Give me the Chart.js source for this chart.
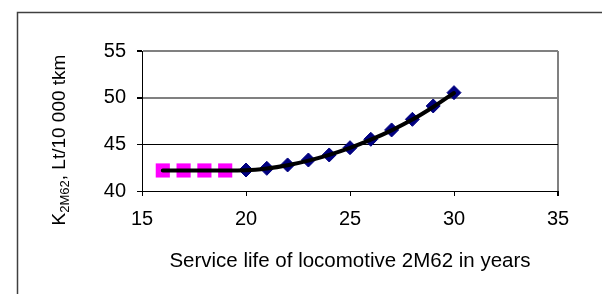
<!DOCTYPE html>
<html><head><meta charset="utf-8">
<script src="https://cdn.jsdelivr.net/npm/chart.js@4.4.1/dist/chart.umd.min.js"></script>
<style>html,body{margin:0;padding:0;background:#fff;}canvas{display:block;}</style>
</head><body>
<canvas id="c" width="602" height="294"></canvas>
<script>
// ---- data ----
const pinkYears  = [16, 17, 18, 19];
const pinkValues = [42.2, 42.2, 42.2, 42.2];
const blueYears  = [20, 21, 22, 23, 24, 25, 26, 27, 28, 29, 30];
const blueValues = [42.25, 42.43, 42.79, 43.32, 43.86, 44.64, 45.54, 46.54, 47.68, 49.11, 50.54];
const trendYears  = [16, 17, 18, 19, 20, 21, 22, 23, 24, 25, 26, 27, 28, 29, 30];
const trendValues = [42.2, 42.2, 42.2, 42.2, 42.22, 42.4, 42.75, 43.25, 43.87, 44.62, 45.5, 46.5, 47.65, 49.0, 50.5];
const xTickValues = [15, 20, 25, 30, 35];
const yTickValues = [40, 45, 50, 55];
const xTitle = 'Service life of locomotive 2M62 in years';
const yTitleMain = 'K';
const yTitleSub = '2M62';
const yTitleRest = ', Lt/10 000 tkm';

const FONT = "'Liberation Sans', Arial, sans-serif";

const framePlugin = {
  id: 'frame',
  beforeDraw(chart) {
    const ctx = chart.ctx;
    ctx.save();
    ctx.fillStyle = '#fff';
    ctx.fillRect(0, 0, chart.width, chart.height);
    ctx.strokeStyle = '#404040';
    ctx.lineWidth = 1.5;
    ctx.strokeRect(17.5, 12.5, 700, 400);
    ctx.restore();
  },
  afterDraw(chart) {
    const ctx = chart.ctx;
    ctx.save();
    ctx.fillStyle = '#000';
    ctx.textBaseline = 'alphabetic';
    const big = "19px " + FONT, small = "13px " + FONT;
    ctx.font = big; const w1 = ctx.measureText(yTitleMain).width;
    const w3 = ctx.measureText(yTitleRest).width;
    ctx.font = small; const w2 = ctx.measureText(yTitleSub).width;
    const total = w1 + w2 + w3;
    const cy = 140;
    ctx.translate(65, cy + total / 2);
    ctx.rotate(-Math.PI / 2);
    ctx.font = big; ctx.fillText(yTitleMain, 0, 0);
    ctx.font = small; ctx.fillText(yTitleSub, w1, 4);
    ctx.font = big; ctx.fillText(yTitleRest, w1 + w2, 0);
    ctx.restore();
  }
};

const xy = (xs, ys) => xs.map((x, i) => ({x, y: ys[i]}));

new Chart(document.getElementById('c'), {
  type: 'line',
  data: {
    datasets: [
      {
        label: 'trend', data: xy(trendYears, trendValues),
        borderColor: '#000', borderWidth: 4, pointRadius: 0,
        cubicInterpolationMode: 'monotone', borderCapStyle: 'round', borderJoinStyle: 'round',
        fill: false, order: 0
      },
      {
        label: 'calc', data: xy(blueYears, blueValues), showLine: false,
        pointStyle: 'rectRot', pointRadius: 7, backgroundColor: '#000080', borderColor: '#000080',
        borderWidth: 1, order: 1
      },
      {
        label: 'base', data: xy(pinkYears, pinkValues), showLine: false,
        pointStyle: 'rect', pointRadius: 10, backgroundColor: '#FF00FF', borderColor: '#FF00FF',
        borderWidth: 0, order: 2
      }
    ]
  },
  options: {
    responsive: false, animation: false, devicePixelRatio: 1,
    layout: { padding: { left: 0, top: 51, right: 44, bottom: 0 } },
    plugins: { legend: { display: false }, tooltip: { enabled: false } },
    scales: {
      x: {
        type: 'linear', min: 15, max: 35,
        afterBuildTicks: s => { s.ticks = xTickValues.map(v => ({value: v})); },
        afterFit: s => { s.height = 103; },
        border: { display: true, color: '#000', width: 1 },
        grid: {
          color: c => (c.tick && c.tick.value === 35) ? '#808080' : 'rgba(0,0,0,0)',
          lineWidth: c => (c.tick && c.tick.value === 35) ? 2 : 1,
          tickColor: '#000', tickLength: 5, drawTicks: true
        },
        ticks: { color: '#000', font: { size: 20, family: FONT, lineHeight: 1.2 }, padding: 11, maxRotation: 0 },
        title: { display: true, text: xTitle, color: '#000', font: { size: 20.5, family: FONT, lineHeight: 1.2 }, padding: { top: 0, bottom: 20 } }
      },
      y: {
        type: 'linear', min: 40, max: 55,
        afterBuildTicks: s => { s.ticks = yTickValues.map(v => ({value: v})); },
        afterFit: s => { s.width = 142; },
        border: { display: true, color: '#000', width: 1 },
        grid: {
          color: c => (c.tick && (c.tick.value === 50 || c.tick.value === 55)) ? '#808080' : '#000',
          lineWidth: c => (c.tick && (c.tick.value === 50 || c.tick.value === 55)) ? 2 : 1,
          tickColor: '#000', tickLength: 5, drawTicks: true
        },
        ticks: { color: '#000', font: { size: 20, family: FONT, lineHeight: 1.2 }, padding: 11 }
      }
    }
  },
  plugins: [framePlugin]
});
</script>
</body></html>
